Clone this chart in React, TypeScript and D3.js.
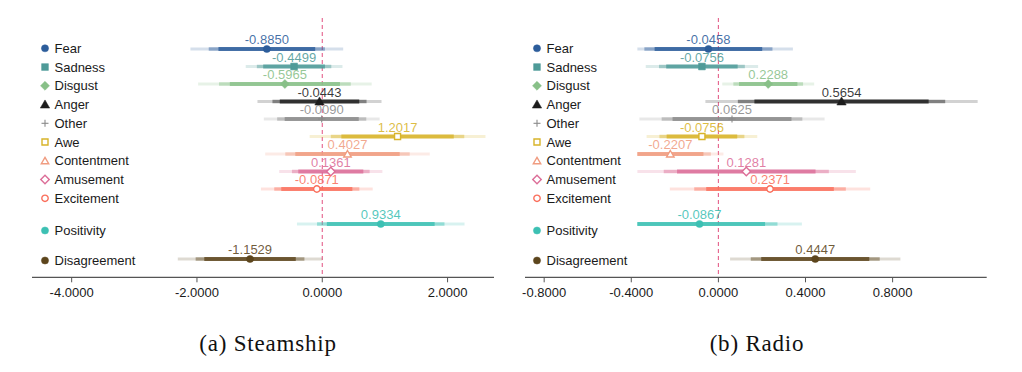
import React from "react";
import * as d3 from "d3";

// categories, in plotting order (top to bottom)
const categories = [
  "Fear", "Sadness", "Disgust", "Anger", "Other", "Awe",
  "Contentment", "Amusement", "Excitement", "Positivity", "Disagreement",
];
const colors = [
  "#2c5d9b", "#4f9b98", "#88c088", "#1c1c1c", "#8a8a8a", "#d8b42a",
  "#f09c80", "#dc6e98", "#fa6f5c", "#3cc0b3", "#5c451c",
];
const shapes = [
  "circle", "square", "diamond", "triangle", "plus", "squareOpen",
  "triangleOpen", "diamondOpen", "circleOpen", "circle", "circle",
];

// (a) Steamship: point estimates and half widths of the 90 / 95 / 99% intervals
const steamValues = [-0.885, -0.4499, -0.5965, -0.0443, -0.009, 1.2017, 0.4027, 0.1361, -0.0871, 0.9334, -1.1529];
const steamCi90 = [0.772, 0.493, 0.879, 0.634, 0.591, 0.897, 0.833, 0.519, 0.567, 0.86, 0.73];
const steamCi95 = [0.927, 0.594, 1.051, 0.751, 0.711, 1.065, 0.993, 0.62, 0.679, 1.017, 0.868];
const steamCi99 = [1.219, 0.772, 1.385, 0.99, 0.924, 1.403, 1.313, 0.823, 0.892, 1.337, 1.153];
const steamTicks = [-4, -2, 0, 2];

// (b) Radio
const radioValues = [-0.0458, -0.0756, 0.2288, 0.5654, 0.0625, -0.0756, -0.2207, 0.1281, 0.2371, -0.0867, 0.4447];
const radioCi90 = [0.247, 0.164, 0.134, 0.4, 0.273, 0.162, 0.152, 0.318, 0.293, 0.301, 0.248];
const radioCi95 = [0.294, 0.197, 0.16, 0.476, 0.323, 0.195, 0.186, 0.379, 0.348, 0.358, 0.296];
const radioCi99 = [0.388, 0.258, 0.211, 0.625, 0.425, 0.254, 0.244, 0.503, 0.46, 0.47, 0.391];
const radioTicks = [-0.8, -0.4, 0, 0.4, 0.8];

const panels = [
  {
    caption: "(a) Steamship", values: steamValues, ci90: steamCi90, ci95: steamCi95, ci99: steamCi99,
    ticks: steamTicks, domain: [-4.633, 2.741], range: [32, 494], clipLo: -Infinity, legendX: 45, captionX: 268,
  },
  {
    caption: "(b) Radio", values: radioValues, ci90: radioCi90, ci95: radioCi95, ci99: radioCi99,
    ticks: radioTicks, domain: [-0.888, 1.232], range: [525, 986.7], clipLo: -0.372, legendX: 537, captionX: 757,
  },
];

const FONT = "'Liberation Sans', Arial, Helvetica, sans-serif";
const AXIS_Y = 277.3;

const rowY = (i: number) => 49 + 17.5 * (i < 9 ? i : 2 * i - 8);
const legendY = (i: number) => (i < 9 ? 48.3 + 18.75 * i : 230.5 + (i - 9) * 30);

const Marker = ({ shape, color, x, y }: { shape: string; color: string; x: number; y: number }) => {
  const open = shape.endsWith("Open");
  const base = shape.replace("Open", "");
  if (base === "plus") {
    return (
      <g stroke={color} strokeWidth={1.1}>
        <line x1={x - 3.5} x2={x + 3.5} y1={y} y2={y} />
        <line x1={x} x2={x} y1={y - 3.5} y2={y + 3.5} />
      </g>
    );
  }
  // diamonds are squares turned by 45 degrees
  const type =
    base === "circle" ? d3.symbolCircle
    : base === "triangle" ? d3.symbolTriangle
    : d3.symbolSquare;
  const size =
    base === "circle" ? (open ? 32 : 40)
    : base === "square" ? (open ? 36 : 46)
    : base === "diamond" ? (open ? 36 : 40)
    : (open ? 24 : 38);
  const d = d3.symbol().type(type).size(size)() as string;
  const rot = base === "diamond" ? " rotate(45)" : "";
  return (
    <path
      d={d}
      transform={`translate(${x},${y + (base === "triangle" ? 0.8 : 0)})${rot}`}
      fill={open ? "#fff" : color}
      stroke={color}
      strokeWidth={open ? 1.4 : 0.5}
    />
  );
};

const Panel = ({ p }: { p: (typeof panels)[number] }) => {
  const x = d3.scaleLinear().domain(p.domain).range(p.range);
  const seg = (v: number, h: number) => [x(Math.max(v - h, p.clipLo)), x(v + h)];
  return (
    <g>
      {/* legend */}
      {categories.map((c, i) => (
        <g key={c}>
          <Marker shape={shapes[i]} color={colors[i]} x={p.legendX} y={legendY(i)} />
          <text x={p.legendX + 9.5} y={legendY(i) + 4.6} fontSize={13} fontFamily={FONT} fill="#1a1a1a">
            {c}
          </text>
        </g>
      ))}

      {/* zero reference */}
      <line x1={x(0)} x2={x(0)} y1={18} y2={AXIS_Y} stroke="#e5608b" strokeWidth={1.1} strokeDasharray="4,3" />

      {/* intervals */}
      {categories.map((c, i) => {
        const y = rowY(i);
        const v = p.values[i];
        const [a99, b99] = seg(v, p.ci99[i]);
        const [a95, b95] = seg(v, p.ci95[i]);
        const [a90, b90] = seg(v, p.ci90[i]);
        return (
          <g key={c}>
            <line x1={a99} x2={b99} y1={y} y2={y} stroke={colors[i]} strokeOpacity={0.2} strokeWidth={3} />
            <line x1={a95} x2={b95} y1={y} y2={y} stroke={colors[i]} strokeOpacity={0.45} strokeWidth={3.5} />
            <line x1={a90} x2={b90} y1={y} y2={y} stroke={colors[i]} strokeOpacity={0.8} strokeWidth={4} />
            <Marker shape={shapes[i]} color={colors[i]} x={x(v)} y={y} />
            <text
              x={x(v)}
              y={y - 4.6}
              textAnchor="middle"
              fontSize={13}
              fontFamily={FONT}
              fill={colors[i]}
              fillOpacity={0.88}
            >
              {v.toFixed(4)}
            </text>
          </g>
        );
      })}

      {/* x axis */}
      <line x1={p.range[0]} x2={p.range[1]} y1={AXIS_Y} y2={AXIS_Y} stroke="#555" strokeWidth={1.2} />
      {p.ticks.map((t) => (
        <g key={t}>
          <line x1={x(t)} x2={x(t)} y1={AXIS_Y} y2={AXIS_Y + 5} stroke="#555" strokeWidth={1} />
          <text x={x(t)} y={AXIS_Y + 20} textAnchor="middle" fontSize={13} fontFamily={FONT} fill="#1a1a1a">
            {t.toFixed(4)}
          </text>
        </g>
      ))}

      <text
        x={p.captionX}
        y={351}
        textAnchor="middle"
        fontSize={23}
        letterSpacing={0.8}
        fontFamily="'Liberation Serif', 'Times New Roman', serif"
        fill="#111"
      >
        {p.caption}
      </text>
    </g>
  );
};

export default function App() {
  return (
    <svg
      width={1022}
      height={372}
      style={{ position: "absolute", left: 0, top: 0, background: "#fff" }}
    >
      {panels.map((p) => (
        <Panel key={p.caption} p={p} />
      ))}
    </svg>
  );
}
